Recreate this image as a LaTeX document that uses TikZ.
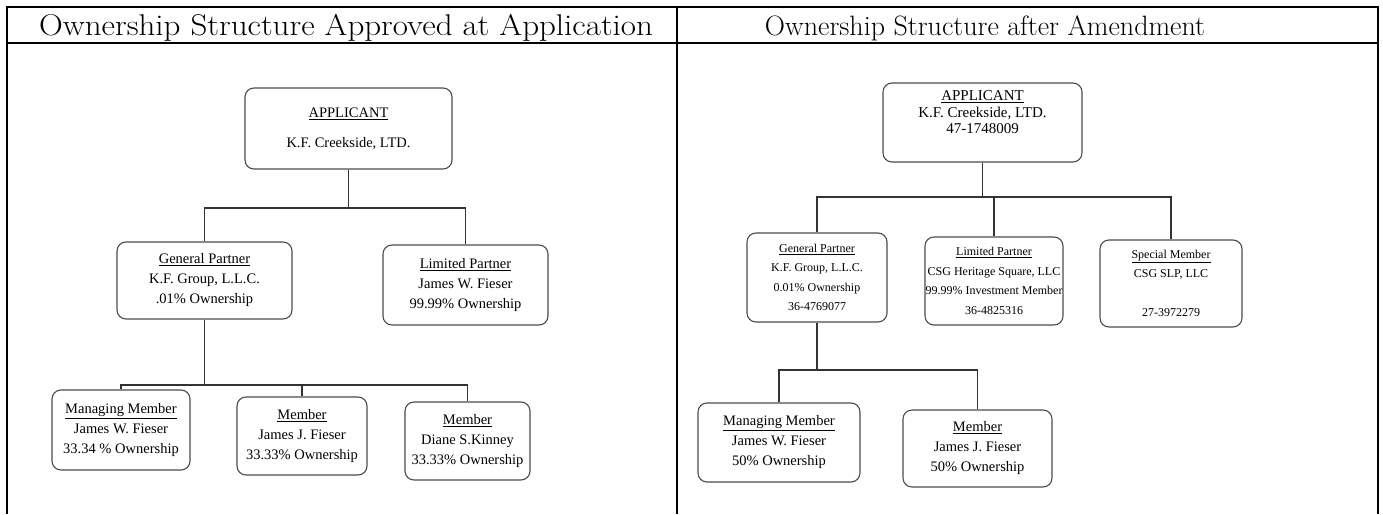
\documentclass[tikz,border=0pt]{standalone}
\usepackage{fontspec}
\newfontfamily\scanfont{Liberation Serif}
\begin{document}
\begin{tikzpicture}[x=1pt,y=-1pt,
	entity/.style={draw=black!70,line width=1.1pt,rounded corners=9pt,
		align=center,inner sep=0pt,text=black},
	bigtext/.style={entity,font=\scanfont\fontsize{14.5}{20}\selectfont},
	smalltext/.style={entity,font=\scanfont\fontsize{12}{19.5}\selectfont},
	link/.style={draw=black!80,line width=1.4pt},
	rule/.style={line width=2pt},
	heading/.style={font=\fontsize{28}{32}\selectfont}]
	\useasboundingbox (0,0) rectangle (1383,514);
	\draw[rule] (7,514)--(7,7)--(1378,7)--(1378,514)
	(7,43)--(1378,43) (677,7)--(677,514);
	\node[heading,font=\fontsize{30}{32}\selectfont] (titleL) at (346,27.5)
	{\scalebox{1.1}[1]{Ownership Structure Approved at Application}};
	\node[heading] (titleR) at (985,28) {Ownership Structure after Amendment};
	% before
	\node[bigtext,minimum width=207,minimum height=81] (appL) at (348.5,128.5)
	{\underline{APPLICANT}\\[10pt]K.F. Creekside, LTD.};
	\node[bigtext,minimum width=175,minimum height=77] (gpL) at (204.5,280.5)
	{\underline{General Partner}\\K.F. Group, L.L.C.\\.01\% Ownership};
	\node[bigtext,minimum width=165,minimum height=80] (lpL) at (465.5,285)
	{\underline{Limited Partner}\\James W. Fieser\\99.99\% Ownership};
	\node[bigtext,minimum width=138,minimum height=80] (mmL) at (121,430)
	{\underline{Managing Member}\\James W. Fieser\\33.34 \% Ownership};
	\node[bigtext,minimum width=130,minimum height=78] (mjL) at (302,436)
	{\underline{Member}\\James J. Fieser\\33.33\% Ownership};
	\node[bigtext,minimum width=125,minimum height=78] (mdL) at (467.5,441)
	{\underline{Member}\\Diane S.Kinney\\33.33\% Ownership};
	\coordinate (jL) at (348.5,208);
	\coordinate (kL) at (204.5,385);
	\draw[link] (appL) -- (jL);
	\draw[link] (gpL.north) |- (jL) -| (lpL.north);
	\draw[link] (gpL) -- (kL);
	\draw[link] (mmL.north) |- (kL) -| (mdL.north);
	\draw[link] (mjL.north) -- (mjL.north |- kL);
	% after
	\node[bigtext,font=\scanfont\fontsize{15}{16.5}\selectfont,
	minimum width=199,minimum height=79] (appR) at (982.5,122.5)
	{\underline{APPLICANT}\\K.F. Creekside, LTD.\\47-1748009\\[4pt]~};
	\node[smalltext,minimum width=140,minimum height=89] (gpR) at (817,277.5)
	{\underline{General Partner}\\K.F. Group, L.L.C.\\0.01\% Ownership\\36-4769077};
	\node[smalltext,minimum width=138,minimum height=88] (lpR) at (994,281)
	{\underline{Limited Partner}\\CSG Heritage Square, LLC\\99.99\% Investment Member\\36-4825316};
	\node[smalltext,minimum width=142,minimum height=87] (smR) at (1171,283.5)
	{\underline{Special Member}\\CSG SLP, LLC\\[19.5pt]27-3972279};
	\node[bigtext,minimum width=162,minimum height=79] (mmR) at (779,442.5)
	{\underline{Managing Member}\\James W. Fieser\\50\% Ownership};
	\node[bigtext,minimum width=149,minimum height=77] (mjR) at (977.5,448.5)
	{\underline{Member}\\James J. Fieser\\50\% Ownership};
	\coordinate (jR) at (982.5,197);
	\coordinate (kR) at (817,370);
	\draw[link] (appR) -- (jR);
	\draw[link] (gpR.north) |- (jR) -| (smR.north);
	\draw[link] (lpR.north) -- (lpR.north |- jR);
	\draw[link] (gpR) -- (kR);
	\draw[link] (mmR.north) |- (kR) -| (mjR.north);
\end{tikzpicture}
\end{document}
